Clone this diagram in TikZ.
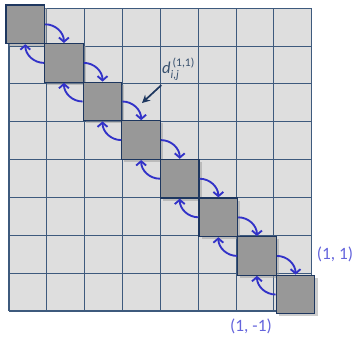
\documentclass[tikz,border=0pt]{standalone}
\usepackage{fontspec}
\setmainfont{Carlito}
\usepackage{amsmath}
\usetikzlibrary{arrows.meta,shadows}
\definecolor{cCell}{RGB}{222,222,222}
\definecolor{cLine}{RGB}{62,90,125}
\definecolor{cBlock}{RGB}{152,152,152}
\definecolor{cEdge}{RGB}{30,55,95}
\definecolor{cFlow}{RGB}{50,50,200}
\definecolor{cNote}{RGB}{55,80,110}
\definecolor{cDir}{RGB}{100,100,220}

\begin{document}
\begin{tikzpicture}[x=1cm, y=1cm, font=\small,
  block/.style={draw=cEdge, line width=0.9pt, fill=cBlock, minimum size=1.02cm, inner sep=0pt,
    drop shadow={shadow xshift=0.07cm, shadow yshift=-0.07cm, fill=black!40, opacity=0.5}},
  flow/.style={cFlow, line width=1.4pt, -{Straight Barb[length=3.2pt,width=7.5pt]}},
  dir/.style={cDir, font=\fontsize{13}{15}\selectfont}]

  \useasboundingbox (-0.238,-0.713) rectangle (9.168,8.217);

  % ---- background grid (8 x 8 cells) ----
  \fill[cCell] (0,0) rectangle (8,8);
  \draw[cLine, line width=0.8pt] (0,0) grid (8,8);

  % ---- diagonal blocks (step 1.02, slightly off the grid) ----
  \foreach \k in {1,...,8}{
    \node[block] (sq\k) at ({0.431+1.02*(\k-1)}, {7.575-1.02*(\k-1)}) {};
  }

  % ---- forward / backward links between neighbours ----
  \foreach \k [count=\n from 2] in {1,...,7}{
    \draw[flow] (sq\k.east) to[out=0, in=90] (sq\n.north);
    \draw[flow] (sq\n.west) to[out=180, in=-90] (sq\k.south);
  }

  % ---- annotation ----
  \node[cNote, font=\fontsize{12.5}{14}\selectfont] (dlabel) at (4.48,6.39)
    {$\textit{d}^{\,\text{(1,1)}}_{\textit{i,j}}$};
  \coordinate (dtip) at (3.514,5.495);
  \draw[cEdge, line width=1.3pt, -{Stealth[length=6pt,width=6pt]}] (dlabel) -- (dtip);

  % ---- direction labels ----
  \node[dir] (dirA) at (8.613,1.506) {(1, 1)};
  \node[dir] (dirB) at (6.394,-0.396) {(1, -1)};

\end{tikzpicture}
\end{document}
